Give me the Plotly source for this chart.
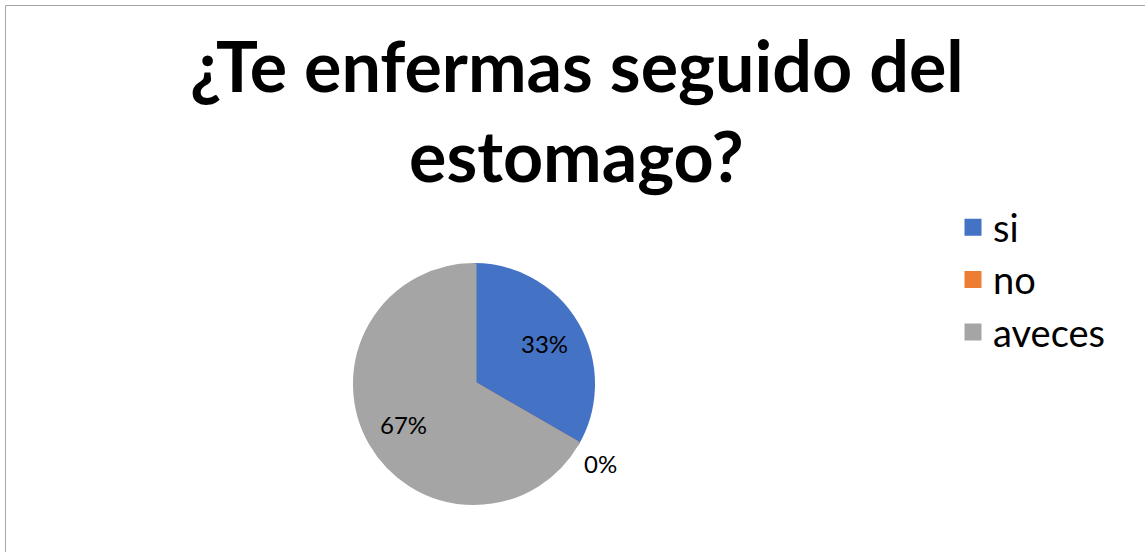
import math
import plotly.graph_objects as go

labels = ["si", "no", "aveces"]
values = [1, 0, 2]
colors = ["#4472C4", "#ED7D31", "#A5A5A5"]
title_lines = ["¿Te enfermas seguido del", "estomago?"]

W, H = 1145, 552
FONT = "Lato"

# pie placement in pixels (page == paper, body margin removed below)
cx, cy, r = 474, 384, 121
lw = 5                       # slice outline (same colour as slice)
rd = r - lw / 2
dom_x = [(cx - rd) / W, (cx + rd) / W]
dom_y = [1 - (cy + rd) / H, 1 - (cy - rd) / H]

def px(x):
    return x / W

def py(y):
    return 1 - y / H

fig = go.Figure()
fig.add_trace(go.Pie(
    labels=labels,
    values=values,
    sort=False,
    direction="clockwise",
    rotation=0,
    marker=dict(colors=colors, line=dict(color=colors, width=lw)),
    textinfo="none",
    domain=dict(x=dom_x, y=dom_y),
    hoverinfo="label+percent",
))

# percent labels placed from the slice geometry
total = sum(values)
cum = 0
for lab, v in zip(labels, values):
    pct = f"{round(100 * v / total)}%"
    if v > 0:
        frac = (cum + v / 2) / total
        ang = math.pi / 2 - 2 * math.pi * frac
        lx = cx + 0.67 * r * math.cos(ang)
        ly = cy - 0.67 * r * math.sin(ang)
        fig.add_annotation(x=px(lx), y=py(ly), xref="paper", yref="paper",
                           text=pct, showarrow=False, xanchor="center", yanchor="middle",
                           font=dict(family=FONT, size=24, color="#000000"))
    else:
        frac = cum / total
        ang = math.pi / 2 - 2 * math.pi * frac
        lx = cx + (r + 4) * math.cos(ang)
        ly = cy - (r + 4) * math.sin(ang)
        fig.add_annotation(x=px(lx), y=py(ly), xref="paper", yref="paper",
                           text=pct, showarrow=False, xanchor="left", yanchor="top",
                           font=dict(family=FONT, size=24, color="#000000"))
    cum += v

# title (two centred lines)
title_y = [65, 155]
for t, yy in zip(title_lines, title_y):
    fig.add_annotation(x=px(576.5), y=py(yy), xref="paper", yref="paper",
                       text=f"<b>{t}</b>", showarrow=False,
                       xanchor="center", yanchor="middle",
                       font=dict(family=FONT, size=70, color="#000000"))

fig.add_shape(type="rect", xref="paper", yref="paper",
              x0=px(5.5), x1=1.02, y0=-0.02, y1=py(5.5),
              line=dict(color="#A6A6A6", width=1), fillcolor="rgba(0,0,0,0)")

fig.update_layout(
    width=W, height=H,
    margin=dict(l=0, r=0, t=0, b=0),
    paper_bgcolor="white",
    plot_bgcolor="white",
    legend=dict(
        x=px(953), xanchor="left", y=py(196), yanchor="top",
        font=dict(family=FONT, size=38, color="#000000"),
        tracegroupgap=0,
    ),
    showlegend=True,
)

fig.write_html("out.html", config={"displayModeBar": False},
               post_script="document.body.style.margin='0';")
